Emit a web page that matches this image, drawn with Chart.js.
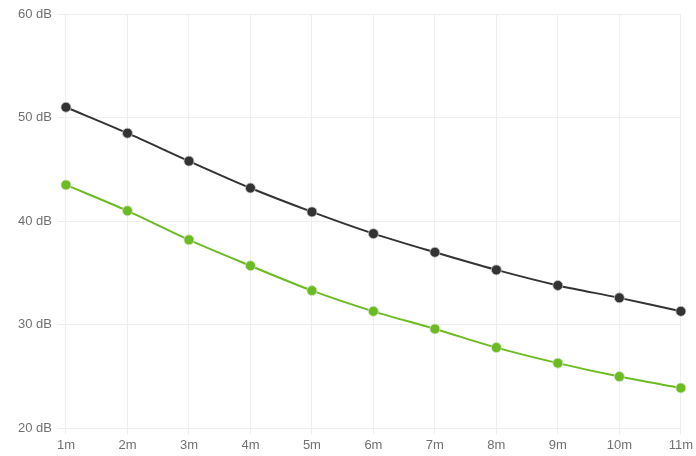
<!DOCTYPE html>
<html>
<head>
<meta charset="utf-8">
<script src="https://cdn.jsdelivr.net/npm/chart.js@4"></script>
<style>
  html, body { margin: 0; padding: 0; background: #fff; }
  #wrap { width: 696px; height: 456px; }
</style>
</head>
<body>
<div id="wrap"><canvas id="myChart"></canvas></div>
<script>
// distance labels
var labels = ['1m', '2m', '3m', '4m', '5m', '6m', '7m', '8m', '9m', '10m', '11m'];
// level in dB
var darkLine = [51.0, 48.5, 45.8, 43.2, 40.9, 38.8, 37.0, 35.3, 33.8, 32.6, 31.3];
var greenLine = [43.5, 41.0, 38.2, 35.7, 33.3, 31.3, 29.6, 27.8, 26.3, 25.0, 23.9];
var yMin = 20, yMax = 60, yStep = 10;

Chart.defaults.font.family = 'Liberation Sans, Arial, sans-serif';
Chart.defaults.font.size = 13;
Chart.defaults.color = '#707070';

const ctx = document.getElementById('myChart');
var cfg = {
  type: 'line',
  data: {
    labels: labels,
    datasets: [{
      label: 'dark',
      data: darkLine,
      borderColor: '#333333',
      backgroundColor: '#333333',
      pointBorderColor: 'rgba(200,200,200,0.8)',
      pointBorderWidth: 1,
      pointRadius: 5,
      borderWidth: 2,
      tension: 0.3,
      fill: false
    }, {
      label: 'green',
      data: greenLine,
      borderColor: '#6cbb22',
      backgroundColor: '#6cbb22',
      pointBorderColor: 'rgba(210,230,200,0.8)',
      pointBorderWidth: 1,
      pointRadius: 5,
      borderWidth: 2,
      tension: 0.3,
      fill: false
    }]
  },
  options: {
    responsive: true,
    maintainAspectRatio: false,
    animation: false,
    layout: { padding: { top: 14, right: 6, bottom: 0, left: 12 } },
    plugins: {
      legend: { display: false },
      tooltip: { enabled: false }
    },
    scales: {
      x: {
        grid: { color: '#eeeeee', drawTicks: true, tickLength: 6 },
        border: { display: false },
        ticks: { padding: 3 }
      },
      y: {
        min: yMin,
        max: yMax,
        grid: { color: '#eeeeee', tickLength: 8 },
        border: { display: false },
        ticks: {
          stepSize: yStep,
          padding: 6,
          callback: function (v) { return v + ' dB'; }
        }
      }
    }
  }
};

var myChart1 = new Chart(ctx, cfg);
</script>
</body>
</html>
